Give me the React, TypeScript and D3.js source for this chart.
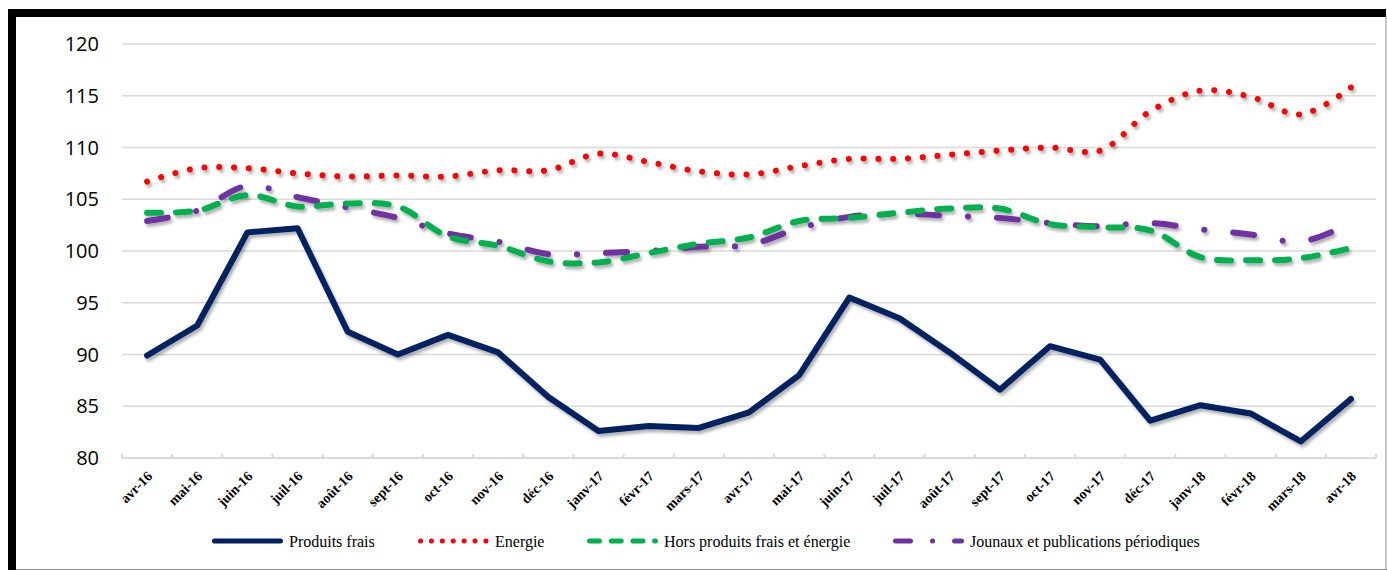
import React, { useEffect, useRef } from 'react';
import * as d3 from 'd3';

const months = ['avr-16', 'mai-16', 'juin-16', 'juil-16', 'août-16', 'sept-16', 'oct-16', 'nov-16', 'déc-16',
  'janv-17', 'févr-17', 'mars-17', 'avr-17', 'mai-17', 'juin-17', 'juil-17', 'août-17', 'sept-17', 'oct-17',
  'nov-17', 'déc-17', 'janv-18', 'févr-18', 'mars-18', 'avr-18'];

const produitsFrais = [89.9, 92.8, 101.8, 102.2, 92.2, 90.0, 91.9, 90.2, 85.9, 82.6, 83.1, 82.9, 84.4, 88.0,
  95.5, 93.5, 90.2, 86.6, 90.8, 89.5, 83.6, 85.1, 84.3, 81.6, 85.7];
const energie = [106.7, 108.0, 108.0, 107.5, 107.2, 107.3, 107.2, 107.8, 107.8, 109.4, 108.6, 107.7, 107.4,
  108.2, 108.9, 108.9, 109.3, 109.7, 110.0, 109.7, 113.5, 115.5, 114.9, 113.2, 115.8];
const horsProduits = [103.7, 103.9, 105.4, 104.3, 104.6, 104.3, 101.4, 100.5, 99.0, 98.9, 99.8, 100.7, 101.3,
  102.9, 103.2, 103.7, 104.1, 104.1, 102.6, 102.3, 102.0, 99.4, 99.1, 99.3, 100.3];
const journaux = [102.9, 103.9, 106.3, 105.2, 104.2, 103.2, 101.7, 100.9, 99.7, 99.8, 100.0, 100.4, 100.6,
  102.2, 103.3, 103.6, 103.4, 103.2, 102.7, 102.4, 102.7, 102.1, 101.6, 100.9, 102.7];
const yTicks = [80, 85, 90, 95, 100, 105, 110, 115, 120];

const series = [
  { name: 'Produits frais', values: produitsFrais, color: '#002060', dash: null, smooth: false, legendDash: null },
  { name: 'Energie', values: energie, color: '#ff0000', dash: '0.1 14.7', smooth: true, legendDash: '0.1 10.8' },
  { name: 'Hors produits frais et énergie', values: horsProduits, color: '#00b050', dash: '14 15', smooth: true, legendDash: '10 11.7' },
  { name: 'Jounaux et publications périodiques', values: journaux, color: '#7030a0', dash: '21 29 0.1 29', smooth: true, legendDash: '15 22 0.1 22' },
];

const legendX = [212, 418, 587, 893];
const SERIF = 'Liberation Serif, Times New Roman, serif';

export default function App() {
  const ref = useRef<SVGSVGElement>(null);

  useEffect(() => {
    const svg = d3.select(ref.current);
    svg.selectAll('*').remove();

    const x = d3.scaleBand().domain(months).range([122, 1376]);
    const y = d3.scaleLinear().domain([80, 120]).range([458, 44]);
    const cx = (m: string) => (x(m) as number) + x.bandwidth() / 2;

    const defs = svg.append('defs');
    const f = defs.append('filter').attr('id', 'shadow')
      .attr('x', '-5%').attr('y', '-20%').attr('width', '110%').attr('height', '140%');
    f.append('feDropShadow').attr('dx', 2).attr('dy', 3).attr('stdDeviation', 1.6)
      .attr('flood-color', '#000').attr('flood-opacity', 0.3);

    svg.append('rect').attr('width', 1387).attr('height', 570).attr('fill', '#fff');

    // grille
    svg.append('g').selectAll('line')
      .data(yTicks.filter(t => t > 80))
      .enter().append('line')
      .attr('x1', 122).attr('x2', 1376)
      .attr('y1', d => y(d)).attr('y2', d => y(d))
      .attr('stroke', '#d9d9d9').attr('stroke-width', 1.5);

    // axe x
    svg.append('line').attr('x1', 122).attr('x2', 1376).attr('y1', y(80)).attr('y2', y(80))
      .attr('stroke', '#d9d9d9').attr('stroke-width', 2);
    svg.append('g').selectAll('line')
      .data(months.concat(['end']))
      .enter().append('line')
      .attr('x1', (d, i) => 122 + i * x.bandwidth())
      .attr('x2', (d, i) => 122 + i * x.bandwidth())
      .attr('y1', y(80) - 4).attr('y2', y(80))
      .attr('stroke', '#d9d9d9').attr('stroke-width', 2);

    svg.append('g').selectAll('text')
      .data(yTicks)
      .enter().append('text')
      .attr('x', 99).attr('y', d => y(d))
      .attr('dy', '0.35em')
      .attr('text-anchor', 'end')
      .style('font-family', 'Open Sans, sans-serif')
      .style('font-size', '20px')
      .attr('fill', '#000')
      .text(d => d);

    svg.append('g').selectAll('text')
      .data(months)
      .enter().append('text')
      .attr('transform', d => `translate(${cx(d) + 6},${y(80) + 19}) rotate(-45)`)
      .attr('text-anchor', 'end')
      .style('font-family', SERIF)
      .style('font-weight', 'bold')
      .style('font-size', '14px')
      .attr('fill', '#000')
      .text(d => d);

    // séries
    const lines = svg.append('g').attr('filter', 'url(#shadow)');
    series.slice().reverse().forEach(s => {
      const line = d3.line<number>()
        .x((d, i) => cx(months[i]))
        .y(d => y(d))
        .curve(s.smooth ? d3.curveCatmullRom.alpha(0.5) : d3.curveLinear);
      const p = lines.append('path')
        .attr('d', line(s.values))
        .attr('fill', 'none')
        .attr('stroke', s.color)
        .attr('stroke-width', 6)
        .attr('stroke-linecap', 'round')
        .attr('stroke-linejoin', 'round');
      if (s.dash) p.attr('stroke-dasharray', s.dash);
    });

    // légende
    const leg = svg.append('g');
    series.forEach((s, i) => {
      const lx = legendX[i];
      const p = leg.append('line')
        .attr('x1', lx + 2.5).attr('x2', lx + 68.5)
        .attr('y1', 541).attr('y2', 541)
        .attr('stroke', s.color).attr('stroke-width', 5)
        .attr('stroke-linecap', 'round');
      if (s.legendDash) p.attr('stroke-dasharray', s.legendDash);
      leg.append('text')
        .attr('x', lx + 77).attr('y', 541)
        .attr('dy', '0.35em')
        .style('font-family', SERIF)
        .style('font-size', '16px')
        .attr('fill', '#000')
        .text(s.name);
    });

    // cadre
    svg.append('rect').attr('x', 8).attr('y', 9).attr('width', 1378).attr('height', 8).attr('fill', '#000');
    svg.append('rect').attr('x', 8).attr('y', 9).attr('width', 8).attr('height', 561).attr('fill', '#000');
    svg.append('line').attr('x1', 1386).attr('x2', 1386).attr('y1', 17).attr('y2', 570)
      .attr('stroke', '#8c8c8c').attr('stroke-width', 1);
    svg.append('line').attr('x1', 16).attr('x2', 1387).attr('y1', 569.5).attr('y2', 569.5)
      .attr('stroke', '#8c8c8c').attr('stroke-width', 1);
  }, []);

  return (
    <svg ref={ref} width={1387} height={570} style={{ position: 'absolute', left: 0, top: 0 }} />
  );
}
